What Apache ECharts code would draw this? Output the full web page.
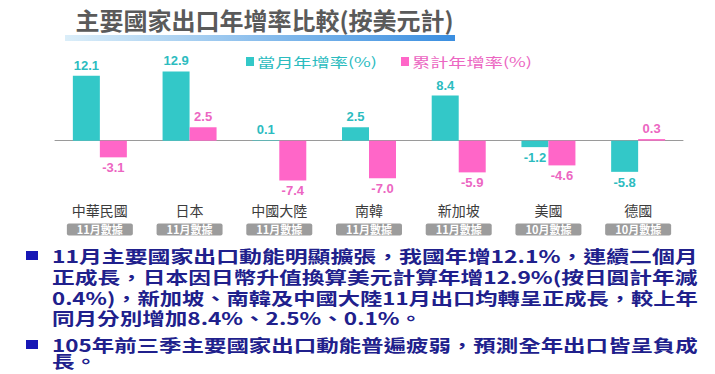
<!DOCTYPE html>
<html>
<head>
<meta charset="utf-8">
<script src="https://cdn.jsdelivr.net/npm/echarts@6/dist/echarts.min.js"></script>
<style>
html,body{margin:0;padding:0;background:#fff;}
#chart{width:715px;height:374px;}
</style>
</head>
<body>
<div id="chart"></div>
<script>
const title = '主要國家出口年增率比較(按美元計)';
const categories = ['中華民國', '日本', '中國大陸', '南韓', '新加坡', '美國', '德國'];
const dataMonths = ['11月數據', '11月數據', '11月數據', '11月數據', '11月數據', '10月數據', '10月數據'];
const seriesNames = ['當月年增率(%)', '累計年增率(%)'];
const monthlyGrowth = [12.1, 12.9, 0.1, 2.5, 8.4, -1.2, -5.8];
const cumulativeGrowth = [-3.1, 2.5, -7.4, -7.0, -5.9, -4.6, 0.3];
const notes = [
  ['11月主要國家出口動能明顯擴張，我國年增12.1%，連續二個月',
   '正成長，日本因日幣升值換算美元計算年增12.9%(按日圓計年減',
   '0.4%)，新加坡、南韓及中國大陸11月出口均轉呈正成長，較上年',
   '同月分別增加8.4%、2.5%、0.1%。'],
  ['105年前三季主要國家出口動能普遍疲弱，預測全年出口皆呈負成',
   '長。']
];

const TEAL = '#33c8c8', PINK = '#ff66c8';
const TEAL_T = '#2cbcbf', PINK_T = '#ec66c2';

const chart = echarts.init(document.getElementById('chart'), null, {renderer: 'svg'});

function toData(vals) {
  return vals.map(v => ({value: v, label: {position: v < 0 ? 'bottom' : 'top'}}));
}

const cv = document.createElement('canvas').getContext('2d');
const NOTE_FONT = 'bold 17px "Noto Sans CJK TC"';
cv.font = NOTE_FONT;
const noteLeft = 52, noteRight = 698;
const lineYs = [[256, 277, 298, 318], [345, 361]];
const graphics = [];
graphics.push({type: 'text', x: 264.5, y: 19, style: {text: title, font: 'bold 24px "Noto Sans CJK TC"', fill: '#5a5a5a', textAlign: 'center', textVerticalAlign: 'middle'}});
graphics.push({type: 'rect', shape: {x: 65, y: 35, width: 390, height: 6}, style: {fill: new echarts.graphic.LinearGradient(0, 0, 1, 0, [{offset: 0, color: '#dbeef9'}, {offset: 1, color: '#3a8ee0'}])}});
const legendItems = [[246, TEAL, TEAL_T], [401, PINK, PINK_T]];
legendItems.forEach((it, i) => {
  graphics.push({type: 'rect', shape: {x: it[0], y: 57, width: 8, height: 9}, style: {fill: it[1]}});
  graphics.push({type: 'text', x: it[0] + 11, y: 61.5, scaleX: 1.4, style: {text: seriesNames[i], font: '13px "Noto Sans CJK TC"', fill: it[2], textVerticalAlign: 'middle'}});
});
let scales = [];
notes.forEach((para, pi) => {
  graphics.push({type: 'rect', shape: {x: 26, y: lineYs[pi][0] - 5, width: 12, height: 9}, style: {fill: '#1717b5'}});
  para.forEach((line, li) => {
    const w = cv.measureText(line).width;
    const s = (noteRight - noteLeft) / w;
    const full = li !== para.length - 1;
    if (full) scales.push(s);
    graphics.push({_full: full, type: 'text', x: noteLeft, y: lineYs[pi][li], scaleX: s, style: {text: line, font: NOTE_FONT, lineHeight: 17, fill: '#20208c', textVerticalAlign: 'middle'}});
  });
});
const avgS = scales.reduce((a, b) => a + b, 0) / scales.length;
graphics.forEach(g => { if (g._full === false) g.scaleX = avgS; delete g._full; });

chart.setOption({
  animation: false,
  grid: {left: 55, right: 32, top: 65.5, bottom: 179.6},
  xAxis: [{
    type: 'category',
    data: categories,
    axisLine: {onZero: true, lineStyle: {color: '#9a9a9a', width: 1}},
    axisTick: {show: false},
    axisLabel: {margin: 8, interval: 0, fontSize: 14, lineHeight: 15, color: '#3c3c3c', fontFamily: 'Noto Sans CJK TC'}
  }, {
    type: 'category',
    position: 'bottom',
    data: dataMonths,
    axisLine: {show: false, onZero: false},
    axisTick: {show: false},
    axisLabel: {margin: 29, interval: 0, fontSize: 11, lineHeight: 12, color: '#fff', backgroundColor: '#9c9c9c', borderRadius: 2, padding: [0, 10, 0, 10], fontFamily: 'Noto Sans CJK TC', fontWeight: 'bold'}
  }],
  yAxis: {type: 'value', min: -10, max: 14, show: false, splitLine: {show: false}},
  series: [
    {name: seriesNames[0], type: 'bar', data: toData(monthlyGrowth), barWidth: 27, barGap: '0%', itemStyle: {color: TEAL},
     label: {show: true, distance: 4, color: TEAL_T, fontSize: 13, fontWeight: 'bold', fontFamily: 'Liberation Sans', formatter: p => p.value.toFixed(1)}},
    {name: seriesNames[1], type: 'bar', data: toData(cumulativeGrowth), barWidth: 27, barGap: '0%', itemStyle: {color: PINK},
     label: {show: true, distance: 4, color: PINK_T, fontSize: 13, fontWeight: 'bold', fontFamily: 'Liberation Sans', formatter: p => p.value.toFixed(1)}}
  ],
  graphic: graphics
});
</script>
</body>
</html>
